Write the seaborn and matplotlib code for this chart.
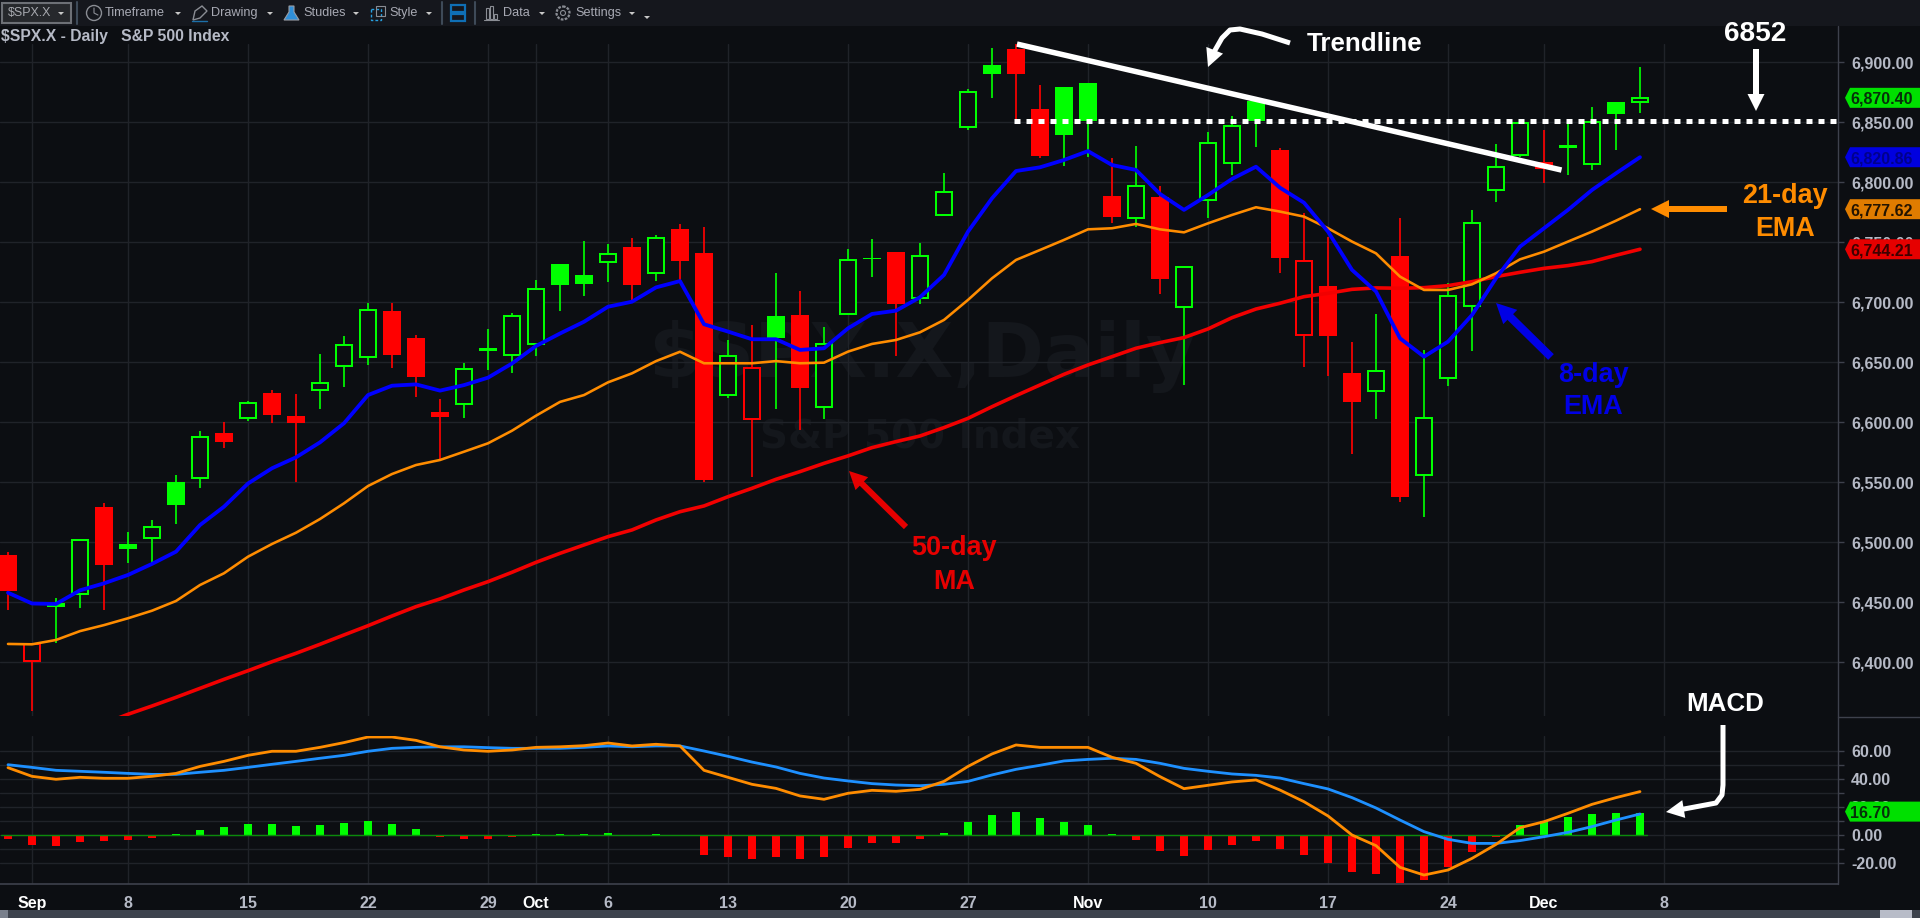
import numpy as np
import pandas as pd
import seaborn as sns
import matplotlib
matplotlib.use("Agg")
import matplotlib.pyplot as plt
from matplotlib.patches import Polygon, Rectangle, Circle

# daily candles
opens = [6489.4, 6401.4, 6449.2, 6456.7, 6529.2, 6498.6, 6503.3, 6550.0, 6554.0, 6590.8,
         6603.3, 6624.1, 6605.3, 6626.9, 6646.9, 6654.1, 6692.7, 6669.9, 6608.6, 6615.3,
         6661.6, 6656.0, 6665.2, 6731.6, 6722.5, 6733.8, 6746.0, 6724.1, 6761.0, 6740.8,
         6622.5, 6602.8, 6688.6, 6689.4, 6613.0, 6690.0, 6736.9, 6741.9, 6703.3, 6772.5,
         6845.8, 6897.8, 6911.1, 6861.0, 6879.4, 6882.8, 6788.6, 6770.0, 6787.8, 6696.0,
         6785.3, 6815.8, 6867.8, 6826.9, 6672.8, 6713.6, 6640.8, 6626.0, 6738.6, 6556.0,
         6636.7, 6696.9, 6793.3, 6822.8, 6817.0, 6830.8, 6815.3, 6866.7, 6866.7]
closes = [6459.7, 6415.0, 6445.8, 6502.0, 6481.4, 6494.7, 6513.0, 6531.4, 6588.0, 6583.9,
          6615.8, 6606.1, 6599.7, 6632.4, 6664.4, 6693.8, 6656.0, 6638.0, 6604.7, 6644.1,
          6659.6, 6688.8, 6711.3, 6714.7, 6715.5, 6740.5, 6714.4, 6753.8, 6734.7, 6551.9,
          6655.6, 6645.0, 6670.6, 6628.9, 6665.0, 6735.6, 6735.8, 6698.6, 6738.9, 6792.2,
          6875.6, 6890.6, 6890.2, 6821.9, 6839.7, 6851.4, 6771.1, 6797.2, 6719.7, 6729.7,
          6833.0, 6847.2, 6850.8, 6737.2, 6734.7, 6671.9, 6617.2, 6643.0, 6538.0, 6603.3,
          6705.6, 6766.4, 6813.0, 6849.7, 6810.8, 6828.9, 6850.6, 6857.2, 6870.4]
highs = [6492.0, 6415.8, 6453.3, 6502.0, 6532.5, 6508.3, 6518.6, 6555.8, 6592.5, 6600.0,
         6618.0, 6626.9, 6624.0, 6656.9, 6671.9, 6699.1, 6699.1, 6672.5, 6619.4, 6649.1,
         6677.5, 6690.8, 6718.6, 6731.6, 6750.8, 6749.0, 6754.0, 6756.0, 6765.2, 6762.5,
         6668.6, 6681.1, 6724.2, 6709.4, 6679.7, 6744.4, 6752.8, 6741.9, 6749.2, 6807.5,
         6877.8, 6912.0, 6915.3, 6881.0, 6879.4, 6882.8, 6820.3, 6830.3, 6796.9, 6729.7,
         6841.7, 6855.0, 6867.8, 6828.3, 6774.2, 6754.7, 6666.7, 6690.3, 6770.0, 6660.3,
         6715.8, 6777.0, 6832.0, 6849.7, 6843.6, 6848.6, 6862.5, 6866.7, 6895.8]
lows = [6443.6, 6359.7, 6415.8, 6445.5, 6443.6, 6483.0, 6483.0, 6515.5, 6545.5, 6578.9,
        6601.4, 6599.7, 6550.5, 6611.4, 6629.7, 6647.7, 6645.5, 6621.3, 6569.2, 6603.9,
        6643.6, 6640.8, 6655.2, 6693.0, 6705.5, 6717.0, 6701.9, 6717.7, 6719.0, 6550.3,
        6620.6, 6554.2, 6611.1, 6593.6, 6602.8, 6690.0, 6721.4, 6655.6, 6699.0, 6772.5,
        6843.6, 6870.3, 6852.0, 6820.3, 6813.9, 6820.8, 6766.4, 6763.0, 6707.2, 6631.1,
        6770.3, 6806.1, 6829.7, 6724.7, 6646.4, 6638.9, 6573.6, 6602.8, 6533.9, 6521.4,
        6630.6, 6659.7, 6783.9, 6821.0, 6799.7, 6806.1, 6810.3, 6827.0, 6858.0]

ema8 = [6458.0, 6449.0, 6448.6, 6460.0, 6465.8, 6472.8, 6482.0, 6492.2, 6514.4, 6529.7,
        6549.0, 6561.7, 6570.8, 6583.3, 6599.2, 6622.7, 6630.5, 6631.6, 6626.4, 6631.0,
        6637.2, 6649.0, 6663.6, 6674.0, 6683.8, 6696.3, 6700.5, 6712.4, 6717.7, 6681.7,
        6675.6, 6669.2, 6669.2, 6660.3, 6661.7, 6678.3, 6690.3, 6693.0, 6704.2, 6722.8,
        6758.9, 6786.7, 6809.4, 6812.5, 6818.6, 6826.0, 6814.4, 6810.3, 6790.3, 6777.0,
        6789.4, 6802.8, 6813.0, 6795.5, 6783.0, 6758.9, 6727.0, 6709.0, 6670.0, 6654.7,
        6667.2, 6689.4, 6720.0, 6746.4, 6761.7, 6777.0, 6793.6, 6807.5, 6820.9]
ema21 = [6415.3, 6415.0, 6418.6, 6426.0, 6431.0, 6436.7, 6443.0, 6451.1, 6464.4, 6474.2,
         6488.0, 6498.6, 6508.0, 6519.4, 6532.5, 6546.9, 6556.9, 6564.4, 6568.6, 6575.5,
         6582.5, 6593.0, 6605.5, 6617.0, 6622.7, 6633.3, 6640.8, 6651.0, 6658.8, 6649.2,
         6649.2, 6649.2, 6651.0, 6649.2, 6649.7, 6658.9, 6665.3, 6668.6, 6675.0, 6685.3,
         6702.0, 6720.0, 6735.3, 6743.6, 6752.0, 6760.8, 6761.7, 6765.3, 6760.8, 6758.3,
         6765.8, 6772.8, 6779.2, 6775.6, 6771.4, 6761.7, 6750.6, 6740.8, 6721.4, 6710.3,
         6710.3, 6715.0, 6724.2, 6735.8, 6742.2, 6750.6, 6758.9, 6768.0, 6777.6]
ma50 = [np.nan, np.nan, np.nan, np.nan, 6349.0, 6356.7, 6363.6, 6370.8, 6378.3, 6385.8,
        6393.0, 6400.5, 6407.5, 6415.0, 6422.8, 6430.5, 6438.6, 6446.4, 6452.8, 6460.3,
        6467.2, 6475.0, 6483.3, 6490.8, 6497.8, 6504.7, 6510.3, 6518.6, 6525.5, 6530.3,
        6538.0, 6545.0, 6552.5, 6558.9, 6565.8, 6572.0, 6578.9, 6583.9, 6588.6, 6595.6,
        6603.3, 6613.0, 6622.2, 6631.1, 6640.0, 6647.8, 6654.7, 6661.7, 6666.4, 6670.6,
        6677.8, 6687.2, 6694.4, 6699.2, 6704.7, 6707.5, 6710.8, 6712.0, 6711.7, 6712.2,
        6713.9, 6717.2, 6721.4, 6725.0, 6728.3, 6730.6, 6733.9, 6739.2, 6744.2]

# MACD panel
macd_hist = [-2.9, -7.1, -7.6, -5.0, -4.3, -3.6, -1.9, 0.4, 3.6, 5.7,
             7.9, 7.9, 6.4, 7.1, 8.6, 10.0, 7.9, 4.3, -1.4, -2.9,
             -2.9, -1.4, 0.7, 0.7, 0.7, 1.4, 0.3, 0.7, -0.2, -14.3,
             -15.7, -17.1, -15.7, -17.1, -15.7, -9.3, -5.7, -5.7, -2.9, 1.4,
             9.3, 14.3, 16.4, 12.1, 9.3, 7.1, 0.7, -3.6, -11.4, -15.0,
             -10.7, -7.1, -4.3, -10.0, -14.3, -20.0, -26.4, -27.9, -34.3, -32.1,
             -22.9, -12.1, -1.4, 7.1, 10.0, 12.9, 15.0, 15.7, 16.0]
macd_blue = [50.2, 48.3, 46.2, 45.5, 44.8, 44.0, 43.3, 43.3, 44.8, 46.2,
             48.3, 50.5, 52.6, 54.8, 56.9, 59.8, 61.9, 62.6, 63.0, 63.0,
             62.4, 61.9, 61.9, 61.9, 62.6, 63.6, 63.0, 63.6, 63.6, 60.0,
             56.2, 52.1, 48.6, 44.0, 40.7, 38.6, 36.7, 35.7, 35.2, 36.2,
             38.3, 42.9, 46.9, 49.8, 52.9, 54.0, 54.8, 54.0, 51.2, 47.6,
             45.5, 43.6, 42.6, 40.7, 36.7, 32.9, 26.7, 19.3, 10.7, 2.4,
             -3.1, -6.0, -6.0, -4.0, -1.2, 1.9, 6.0, 10.7, 15.0]
macd_orange = [48.1, 41.9, 39.8, 41.2, 40.5, 40.5, 41.9, 44.0, 49.0, 52.6,
               56.9, 59.8, 59.8, 62.6, 66.0, 70.0, 70.0, 67.6, 63.0, 60.7,
               59.8, 60.7, 62.6, 63.0, 63.8, 65.7, 63.6, 64.8, 63.6, 46.2,
               41.2, 36.2, 33.3, 27.9, 25.5, 29.8, 31.9, 31.2, 32.6, 38.3,
               49.0, 57.9, 64.3, 62.6, 62.6, 62.6, 55.5, 51.2, 41.7, 33.1,
               35.5, 37.9, 39.3, 32.1, 23.8, 13.6, 0.0, -7.6, -23.1, -28.6,
               -25.0, -16.7, -6.7, 5.2, 9.5, 15.5, 21.9, 26.7, 31.0]

# x axis labels, position is trading day number
date_ticks = [1, 5, 10, 15, 20, 22, 25, 30, 35, 40, 45, 50, 55, 60, 64, 69]
date_labels = ["Sep", "8", "15", "22", "29", "Oct", "6", "13", "20", "27", "Nov", "10", "17", "24", "Dec", "8"]
month_labels = ["Sep", "Oct", "Nov", "Dec"]

price_ticks = list(range(6400, 6901, 50))
macd_ticks = list(range(-20, 61, 10))
macd_labelled = [-20, 0, 20, 40, 60]

level_6852 = 6851.5
trend_x = [42.04, 64.73]
trend_y = [6915.2, 6810.2]

toolbar_items = ["Timeframe", "Drawing", "Studies", "Style", "Data", "Settings"]
toolbar_x = [105, 211, 303, 389, 503, 575]
toolbar_arrows = [178, 270, 356, 429, 542, 632]

BG = "#0c0e12"
GRID = "#202329"
AXIS = "#3e414c"
TXT = "#b6bac6"
GREEN = "#00ff00"
RED = "#ff0000"
BLUE = "#0000ff"
ORANGE = "#ff8c00"
W, H = 1920, 918
PX = 0.72  # points per pixel at dpi 100

sns.set_theme(style="dark", rc={"figure.facecolor": BG, "axes.facecolor": BG, "savefig.facecolor": BG})
plt.rcParams["font.family"] = ["Liberation Sans", "DejaVu Sans"]
plt.rcParams["font.weight"] = "bold"

df = pd.DataFrame({"day": np.arange(len(closes)), "open": opens, "close": closes, "high": highs, "low": lows,
                   "ema8": ema8, "ema21": ema21, "ma50": ma50,
                   "hist": macd_hist, "blue": macd_blue, "orange": macd_orange})
df["prev"] = df["close"].shift(1).fillna(df["open"])
df["colour"] = np.where(df["close"] >= df["prev"], GREEN, RED)
df["hollow"] = df["close"] > df["open"]
df["sign"] = np.where(df["hist"] >= 0, "pos", "neg")


def panel(y0, y1):
    return [0, 1 - y1 / H, 1838 / W, (y1 - y0) / H]


fig = plt.figure(figsize=(W / 100, H / 100), dpi=100)
ax = fig.add_axes(panel(44, 716))
ax2 = fig.add_axes(panel(736, 884))
over = fig.add_axes([0, 0, 1, 1], zorder=10)
over.set_xlim(0, W)
over.set_ylim(H, 0)
over.axis("off")
over.patch.set_alpha(0)

# watermark sits under everything
ax.text(0.48, 0.612, "$SPX.X,Daily", transform=fig.transFigure, ha="center", va="center", fontsize=54,
        family="DejaVu Sans", color="#14171c", zorder=0)
ax.text(0.479, 0.525, "S&P 500 Index", transform=fig.transFigure, ha="center", va="center", fontsize=28,
        family="DejaVu Sans", color="#14171c", zorder=0)

# candles
ax.vlines(df["day"], df["low"], df["high"], colors=df["colour"], lw=1.7 * PX, zorder=2)
solid = df[~df["hollow"]]
ax.bar(solid["day"], solid["open"] - solid["close"], bottom=solid["close"], width=0.79,
       color=solid["colour"], linewidth=0, zorder=3)
empty = df[df["hollow"]]
ax.bar(empty["day"], empty["close"] - empty["open"], bottom=empty["open"], width=0.64,
       facecolor=BG, edgecolor=empty["colour"], linewidth=2 * PX, zorder=3)

# averages
sns.lineplot(data=df, x="day", y="ma50", color="#f20000", lw=3.6 * PX, ax=ax, zorder=4)
sns.lineplot(data=df, x="day", y="ema21", color=ORANGE, lw=2.6 * PX, ax=ax, zorder=5)
sns.lineplot(data=df, x="day", y="ema8", color=BLUE, lw=3.8 * PX, ax=ax, zorder=6)

# drawn levels
ax.plot([41.9, 76.25], [level_6852, level_6852], color="white", lw=5 * PX, ls=(0, (1.2, 1.2)),
        dash_capstyle="butt", zorder=7)
ax.plot(trend_x, trend_y, color="white", lw=5.5 * PX, solid_capstyle="butt", clip_on=False, zorder=8)

# macd panel
sns.barplot(data=df, x="day", y="hist", hue="sign", palette={"pos": GREEN, "neg": RED}, dodge=False,
            width=0.33, native_scale=True, legend=False, errorbar=None, saturation=1, ax=ax2, zorder=3, linewidth=0)
ax2.plot([-0.3, 68.3], [0, 0], color="#0b8a0b", lw=1, zorder=4)
sns.lineplot(data=df, x="day", y="blue", color="#1e90ff", lw=2.8 * PX, ax=ax2, zorder=5)
sns.lineplot(data=df, x="day", y="orange", color=ORANGE, lw=2.8 * PX, ax=ax2, zorder=6)

ax.set_xlim(-8 / 24, 1830 / 24)
ax2.set_xlim(-8 / 24, 1830 / 24)
ax.set_ylim(6900 - (716 - 62.3) / 1.2, 6900 + (62.3 - 44) / 1.2)
ax2.set_ylim(-35, (835 - 736) / 1.4)

for a in (ax, ax2):
    a.set_xlabel("")
    a.set_ylabel("")
    a.set_xticks(date_ticks)
    a.grid(True, color=GRID, lw=1)
    a.set_axisbelow(True)
    a.yaxis.tick_right()
    for s in a.spines.values():
        s.set_visible(False)
    a.tick_params(axis="y", colors=AXIS, length=6 * PX, width=1, pad=5, labelcolor=TXT, labelsize=16 * PX)

ax.set_xticklabels([])
ax.tick_params(axis="x", length=0)
ax.set_yticks(price_ticks)
ax.set_yticklabels([f"{v:,.2f}" for v in price_ticks])

ax2.set_yticks(macd_ticks)
ax2.set_yticklabels([f"{v:.2f}" if v in macd_labelled else "" for v in macd_ticks])
ax2.spines["bottom"].set_visible(True)
ax2.spines["bottom"].set_color(AXIS)
ax2.spines["bottom"].set_linewidth(1.2)
ax2.set_xticklabels(date_labels)
ax2.tick_params(axis="x", colors=AXIS, length=6 * PX, width=1, pad=4, labelsize=16 * PX)
for lab in ax2.get_xticklabels():
    lab.set_color("white" if lab.get_text() in month_labels else TXT)

# chrome: toolbar, title, right rule, scrollbar
over.add_patch(Rectangle((0, 0), W, 26, color="#15171d", lw=0))
over.add_patch(Rectangle((2, 3), 69, 20, facecolor="#26282c", edgecolor="#6d7076", lw=1.5))
over.text(8, 13, "$SPX.X", color="#a8aab0", fontsize=12.4 * PX, va="center", weight="normal")
over.add_patch(Polygon([[58, 12], [64, 12], [61, 15]], color="#c8c8c8", lw=0))
for x in (77, 442, 475):
    over.plot([x, x], [2, 24], color="#3e4a58", lw=1.5)
for name, x in zip(toolbar_items, toolbar_x):
    over.text(x, 13, name, color="#a8aab4", fontsize=12.6 * PX, va="center", weight="normal")
for x in toolbar_arrows:
    over.add_patch(Polygon([[x - 3, 12], [x + 3, 12], [x, 15]], color="#c8c8c8", lw=0))
over.add_patch(Polygon([[644, 16], [650, 16], [647, 19]], color="#c8c8c8", lw=0))
# toolbar icons
over.add_patch(Circle((94, 13), 7.5, fill=False, ec="#8a8d94", lw=1))
over.plot([94, 94, 98], [8, 13, 15], color="#8a8d94", lw=0.8)
over.add_patch(Polygon([[193, 20], [195, 11], [202, 6], [207, 11], [200, 18]], fill=False, ec="#8a8d94", lw=1))
over.plot([192, 207], [21, 21], color="#1c6fa8", lw=1)
over.add_patch(Polygon([[289, 6], [294, 6], [294, 12], [299, 20], [284, 20], [289, 12]], facecolor="#2f8fd8",
                       edgecolor="#9a9da4", lw=0.8))
over.add_patch(Rectangle((371, 9), 10, 11, fill=False, ec="#27a0e0", lw=1, ls=(0, (2, 1.5))))
over.add_patch(Rectangle((376, 6), 9, 10, fill=False, ec="#8a8d94", lw=0.8))
over.add_patch(Rectangle((451, 5), 14, 6.5, fill=False, ec="#0f6fb5", lw=1.6))
over.add_patch(Rectangle((451, 14), 14, 6.5, fill=False, ec="#0f6fb5", lw=1.6))
for x, top in zip((486, 490, 494), (8, 6, 14)):
    over.add_patch(Rectangle((x, top), 3, 19 - top, fill=False, ec="#8a8d94", lw=0.8))
over.plot([484, 499], [20, 20], color="#8a8d94", lw=0.8)
over.add_patch(Circle((563, 13), 6.5, fill=False, ec="#8a8d94", lw=1.6, ls=(0, (1.2, 0.6))))
over.add_patch(Circle((563, 13), 2.5, fill=False, ec="#8a8d94", lw=0.8))

over.text(1, 36, "$SPX.X - Daily   S&P 500 Index", color=TXT, fontsize=15.8 * PX, va="center")
over.plot([1838, 1838], [26, 884], color=AXIS, lw=1)
over.plot([1838, W], [717, 717], color=AXIS, lw=1)
over.add_patch(Rectangle((0, 910), W, 8, color="#3d434d", lw=0))
over.add_patch(Rectangle((0, 910), 8, 8, color="#79808c", lw=0))
over.add_patch(Rectangle((1880, 910), 32, 8, color="#b8bcc8", lw=0))


def tag(axis, value, text, fill, ink):
    # value label on the right axis, pointed at the left
    y = H - axis.transData.transform((0, value))[1]
    pts = [[1845, y], [1850, y - 10], [W, y - 10], [W, y + 10], [1850, y + 10]]
    over.add_patch(Polygon(pts, color=fill, lw=0, zorder=5))
    over.text(1850, y, text, color=ink, fontsize=16 * PX, va="center_baseline", zorder=6)


tag(ax, closes[-1], "6,870.40", "#00e000", "#06300a")
tag(ax, ema8[-1], "6,820.86", "#0000e0", "#00008c")
tag(ax, ema21[-1], "6,777.62", "#e07c00", "#241400")
tag(ax, ma50[-1], "6,744.21", "#e60000", "#400000")
tag(ax2, 16.7, "16.70", "#00e000", "#06300a")


def arrow(points, colour, width=6, head=18):
    # thick line ending in a triangle, last point is the tip
    pts = np.array(points, dtype=float)
    tip = pts[-1]
    d = tip - pts[-2]
    d = d / np.hypot(*d)
    n = np.array([-d[1], d[0]])
    base = tip - d * head
    line = np.vstack([pts[:-1], base + d * 2])
    over.plot(line[:, 0], line[:, 1], color=colour, lw=width * PX, solid_capstyle="butt", solid_joinstyle="round")
    over.add_patch(Polygon([tip, base + n * head / 2, base - n * head / 2], color=colour, lw=0))


arrow([(1290, 43), (1262, 34), (1240, 29), (1230, 30), (1222, 38), (1214, 52), (1208, 67)], "white", 5)
arrow([(1756, 49), (1756, 111)], "white", 6, 17)
arrow([(1727, 209), (1651, 209)], ORANGE, 6)
arrow([(1551, 357), (1496, 303)], "#0000e6", 8, 20)
arrow([(906, 527), (849, 471)], "#e60000", 6, 18)
arrow([(1723, 725), (1723, 785), (1722, 795), (1716, 803), (1700, 806), (1684, 809), (1666, 812)], "white", 5)


def note(x, y, s, colour, size=27):
    over.text(x, y, s, color=colour, fontsize=size * PX, ha="center", va="center", weight="bold")


note(1365, 44, "Trendline", "white", 26)
note(1755, 34, "6852", "white", 28)
note(1785, 196, "21-day", ORANGE)
note(1785, 229, "EMA", ORANGE)
note(1593, 375, "8-day", "#0000e6")
note(1593, 407, "EMA", "#0000e6")
note(954, 548, "50-day", "#e60000")
note(954, 582, "MA", "#e60000")
note(1725, 704, "MACD", "white", 26)

fig.savefig("out.png", dpi=100)
